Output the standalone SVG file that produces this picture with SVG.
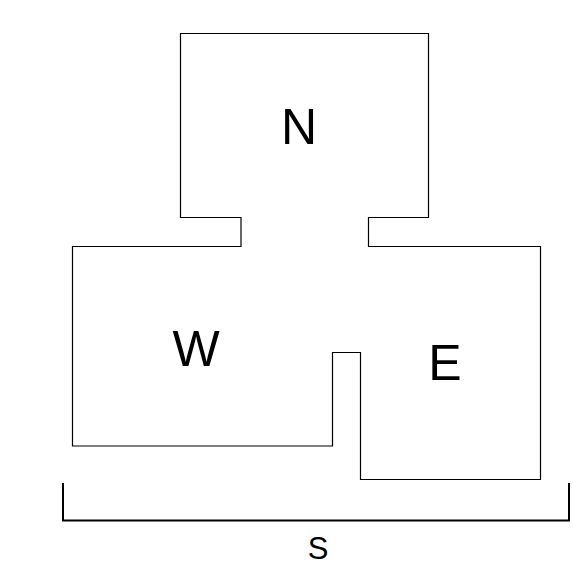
<svg xmlns="http://www.w3.org/2000/svg" width="573" height="585" viewBox="0 0 573 585">
<style>
.outline{fill:none;stroke:#000;stroke-width:1.2}
.bracket{fill:none;stroke:#000;stroke-width:2}
.lbl{font-family:"Liberation Sans",Arial,sans-serif;fill:#000;text-anchor:middle}
.big{font-size:50px}
.small{font-size:31px}
</style>
<rect width="573" height="585" fill="#fff"/>
<g id="plan">
<path class="outline" d="M180.5,33.5 H428.5 V217.5 H368.5 V246.5 H540.5 V479.5 H360.5 V352.5 H332.5 V446 H72.5 V246.5 H241 V217.5 H180.5 Z"/>
</g>
<g id="node-N"><text class="lbl big" x="299" y="144">N</text></g>
<g id="node-W"><text class="lbl big" x="196" y="366">W</text></g>
<g id="node-E"><text class="lbl big" x="445" y="380">E</text></g>
<g id="connectors">
<path class="bracket" d="M63,483 V520.5 H569 V483"/>
</g>
<g id="node-S"><text class="lbl small" x="318" y="559">S</text></g>
</svg>
